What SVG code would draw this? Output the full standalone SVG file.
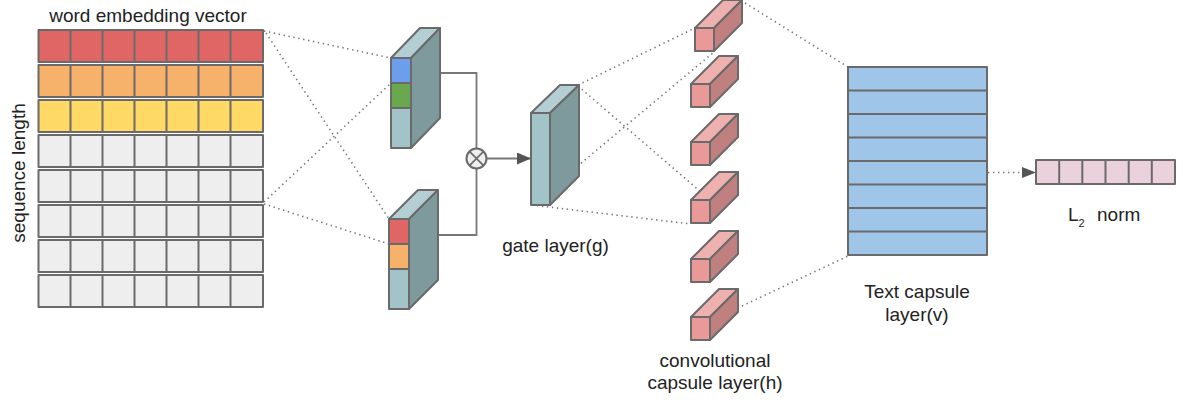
<svg xmlns="http://www.w3.org/2000/svg" width="1183" height="400" viewBox="0 0 1183 400">
<defs>
<style>
text{font-family:"Liberation Sans",Arial,sans-serif;fill:#222;font-size:19px}
.c{stroke:#6a6a6a;stroke-width:2;stroke-linejoin:round}
.thin{stroke:#6a6a6a;stroke-width:1.6}
.dot{stroke:#777;stroke-width:1.6;stroke-dasharray:1.4 3.6;fill:none}
.wire{stroke:#777;stroke-width:1.8;fill:none}
.red{fill:#e06666}.org{fill:#f6b26b}.yel{fill:#ffd966}.gry{fill:#eeeeee}
.tf{fill:#a2c4c9}.tt{fill:#b4cfd3}.ts{fill:#7f9a9c}
.pf{fill:#ea9999}.pt{fill:#efb0b0}.ps{fill:#c08080}
</style>
<marker id="ah" viewBox="0 0 14 12" refX="14" refY="6" markerWidth="14" markerHeight="12" markerUnits="userSpaceOnUse" orient="auto">
<path d="M0,0 L14,6 L0,12 z" fill="#555"/>
</marker>
<g id="rowlines">
<path d="M70.5,0V32M102.5,0V32M134.5,0V32M166.5,0V32M198.5,0V32M230.5,0V32" class="c" fill="none"/>
</g>
<g id="caps">
<polygon points="0,0 19,0 47,-28 28,-28" class="pt c"/>
<polygon points="19,0 47,-28 47,-5 19,23" class="ps c"/>
<rect x="0" y="0" width="19" height="23" class="pf c"/>
</g>
</defs>
<rect width="1183" height="400" fill="#fff"/>

<g id="connectors">
<line x1="264" y1="31" x2="391" y2="58" class="dot"/>
<line x1="266" y1="33" x2="389" y2="219" class="dot"/>
<line x1="264" y1="202" x2="391" y2="83" class="dot"/>
<line x1="264" y1="204" x2="389" y2="244" class="dot"/>
<line x1="578" y1="85" x2="695" y2="28" class="dot"/>
<line x1="531" y1="205" x2="714" y2="52" class="dot"/>
<line x1="578" y1="86" x2="709" y2="199" class="dot"/>
<line x1="532" y1="205" x2="691" y2="224" class="dot"/>
<line x1="745" y1="3" x2="848" y2="67" class="dot"/>
<line x1="742" y1="306" x2="848" y2="256" class="dot"/>
<line x1="988" y1="172.5" x2="1022" y2="172.5" class="dot"/>
<path d="M1022,167 L1036,172.5 L1022,178 z" fill="#555"/>
<path d="M440,73 H476.5 V148.5" class="wire"/>
<path d="M438,235 H476.5 V168.5" class="wire"/>
<line x1="486.5" y1="158.5" x2="531" y2="158.5" class="wire" marker-end="url(#ah)"/>
</g>

<g id="embedding">
<text x="148" y="22" text-anchor="middle">word embedding vector</text>
<text transform="translate(25,173) rotate(-90)" text-anchor="middle" font-size="18">sequence length</text>
<g transform="translate(0,30)"><rect x="38.5" y="0" width="224.5" height="32" class="red c"/><use href="#rowlines"/></g>
<g transform="translate(0,65)"><rect x="38.5" y="0" width="224.5" height="32" class="org c"/><use href="#rowlines"/></g>
<g transform="translate(0,100)"><rect x="38.5" y="0" width="224.5" height="32" class="yel c"/><use href="#rowlines"/></g>
<g transform="translate(0,135)"><rect x="38.5" y="0" width="224.5" height="32" class="gry c"/><use href="#rowlines"/></g>
<g transform="translate(0,170)"><rect x="38.5" y="0" width="224.5" height="32" class="gry c"/><use href="#rowlines"/></g>
<g transform="translate(0,205)"><rect x="38.5" y="0" width="224.5" height="32" class="gry c"/><use href="#rowlines"/></g>
<g transform="translate(0,240)"><rect x="38.5" y="0" width="224.5" height="32" class="gry c"/><use href="#rowlines"/></g>
<g transform="translate(0,275)"><rect x="38.5" y="0" width="224.5" height="32" class="gry c"/><use href="#rowlines"/></g>
</g>

<g id="filter1">
<polygon points="391,58 411,58 440,28 420,28" class="tt c"/>
<polygon points="411,58 440,28 440,118 411,148" class="ts c"/>
<rect x="391" y="58" width="20" height="25" fill="#6d9eeb" class="c"/>
<rect x="391" y="83" width="20" height="25" fill="#6aa84f" class="c"/>
<rect x="391" y="108" width="20" height="40" class="tf c"/>
</g>

<g id="filter2">
<polygon points="389,219 409,219 438,190 418,190" class="tt c"/>
<polygon points="409,219 438,190 438,280 409,309" class="ts c"/>
<rect x="389" y="219" width="20" height="25" class="red c"/>
<rect x="389" y="244" width="20" height="25" class="org c"/>
<rect x="389" y="269" width="20" height="40" class="tf c"/>
</g>

<g id="multiply">
<circle cx="476.5" cy="158.5" r="10" fill="#eeeeee" class="c"/>
<path d="M469.4,151.4 L483.6,165.6 M483.6,151.4 L469.4,165.6" class="thin"/>
</g>

<g id="gate">
<polygon points="531,113 550,113 579,85 560,85" class="tt c"/>
<polygon points="550,113 579,85 579,176 550,205" class="ts c"/>
<rect x="531" y="113" width="19" height="92" class="tf c"/>
<text x="555.5" y="252" text-anchor="middle">gate layer(g)</text>
</g>

<g id="convcaps">
<use href="#caps" x="695" y="28"/>
<use href="#caps" x="691" y="84"/>
<use href="#caps" x="691" y="142"/>
<use href="#caps" x="691" y="200"/>
<use href="#caps" x="691" y="259"/>
<use href="#caps" x="691" y="317"/>
<text x="715" y="367" text-anchor="middle">convolutional</text>
<text x="715" y="389" text-anchor="middle">capsule layer(h)</text>
</g>

<g id="textcaps">
<rect x="848" y="67" width="139" height="188" fill="#9fc5e8" class="c"/>
<path d="M848,90.5H987M848,114H987M848,137.5H987M848,161H987M848,184.5H987M848,208H987M848,231.5H987" class="c" fill="none"/>
<text x="917" y="298" text-anchor="middle">Text capsule</text>
<text x="917" y="321" text-anchor="middle">layer(v)</text>
</g>

<g id="l2norm">
<rect x="1036" y="160" width="139" height="24" fill="#ead1dc" class="c"/>
<path d="M1059.2,160V184M1082.3,160V184M1105.5,160V184M1128.7,160V184M1151.8,160V184" class="c" fill="none"/>
<text x="1068" y="221">L<tspan font-size="11" dy="6">2</tspan><tspan x="1097" dy="-6">norm</tspan></text>
</g>
</svg>
